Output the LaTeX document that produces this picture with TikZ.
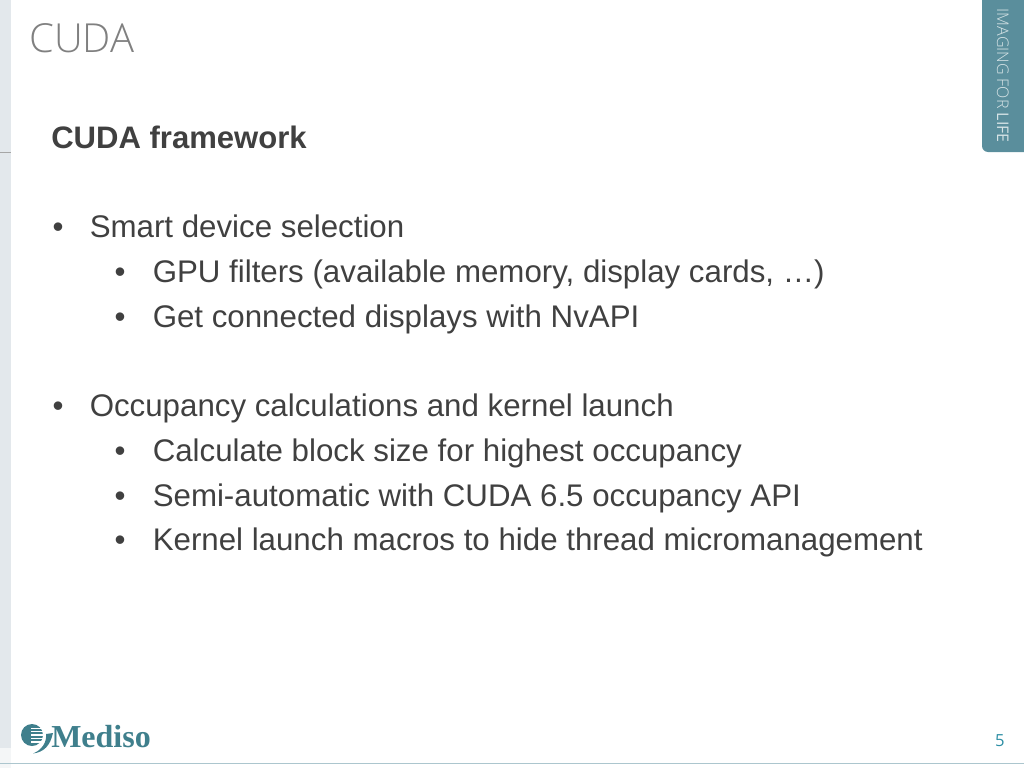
\documentclass[tikz,border=0pt]{standalone}
\usepackage{fontspec}
\setmainfont{Liberation Sans}
\newfontfamily\slidefont{Open Sans Light}[BoldFont={Open Sans}]
\newfontfamily\titlefont{Open Sans}
\newfontfamily\logofont{Liberation Serif}
\definecolor{tabteal}{HTML}{5A8E9C}
\definecolor{logoteal}{HTML}{3F7F8C}
\definecolor{bandgray}{HTML}{E3E8EC}
\definecolor{bodygray}{HTML}{404040}
\definecolor{numteal}{HTML}{2E8FA5}
\tikzset{
	bodytext/.style={anchor=base west,text=bodygray,inner sep=0pt,font=\fontsize{23.45}{27}\selectfont},
	bullettext/.style={anchor=base,text=bodygray,inner sep=0pt,font=\fontsize{23.45}{27}\selectfont}
}
\begin{document}
\begin{tikzpicture}[x=0.75pt,y=-0.75pt]
	\useasboundingbox (0,0) rectangle (1024,768);
	\fill[bandgray] (0,0) rectangle (11,748);
	\fill[bandgray!40] (0,748) rectangle (11,768);
	\draw[gray!70,line width=0.5pt] (0,152) -- (11,152);
	\draw[tabteal!50!white,line width=0.8pt] (0,763.5) -- (1024,763.5);
	\fill[tabteal] (982,0) -- (982,146) arc[start angle=180,end angle=90,radius=6] -- (1024,152) -- (1024,0) -- cycle;
	\node[rotate=-90,anchor=base east,inner sep=0pt,text=white!75!tabteal,font=\slidefont\fontsize{12}{14}\selectfont] (tabtext) at (997,143) {IMAGING FOR \textbf{LIFE}};
	\node[anchor=base west,inner sep=0pt,text=gray,font=\slidefont\fontsize{30}{34}\selectfont] (title) at (29,52) {CUDA};
	\node[bodytext,font=\fontsize{23.3}{27}\selectfont\bfseries] (head) at (51,148) {CUDA framework};
	\node[bullettext] (b1) at (58,237.5) {•};
	\node[bodytext] (t1) at (89.5,237.5) {Smart device selection};
	\node[bullettext] (b2) at (120,282) {•};
	\node[bodytext] (t2) at (152.5,282) {GPU filters (available memory, display cards, …)};
	\node[bullettext] (b3) at (120,327) {•};
	\node[bodytext] (t3) at (152.5,327) {Get connected displays with NvAPI};
	\node[bullettext] (b4) at (58,416.5) {•};
	\node[bodytext] (t4) at (89.5,416.5) {Occupancy calculations and kernel launch};
	\node[bullettext] (b5) at (120,461.5) {•};
	\node[bodytext] (t5) at (152.5,461.5) {Calculate block size for highest occupancy};
	\node[bullettext] (b6) at (120,506) {•};
	\node[bodytext] (t6) at (152.5,506) {Semi-automatic with CUDA 6.5 occupancy API};
	\node[bullettext] (b7) at (120,550.5) {•};
	\node[bodytext] (t7) at (152.5,550.5) {Kernel launch macros to hide thread micromanagement};
	% logo
	\fill[logoteal] (32,735) circle (11);
	\foreach \y/\w in {728/0.6,731.5/0.7,735/0.9,738.5/1.1,742/1.3}
		\draw[white,line width=\w pt] (31,\y) -- (44,\y);
	\fill[logoteal] (33,753.5) .. controls (42,750) and (47,742) .. (46,734) -- (53,733) .. controls (50,746) and (44,752) .. (33,753.5) -- cycle;
	\node[anchor=base west,inner sep=0pt,text=logoteal,font=\logofont\bfseries\fontsize{24}{28}\selectfont] (logo) at (51,747) {Mediso};
	\node[anchor=base,inner sep=0pt,text=numteal,font=\titlefont\fontsize{12.5}{14}\selectfont] (pagenum) at (1000,746) {5};
\end{tikzpicture}
\end{document}
